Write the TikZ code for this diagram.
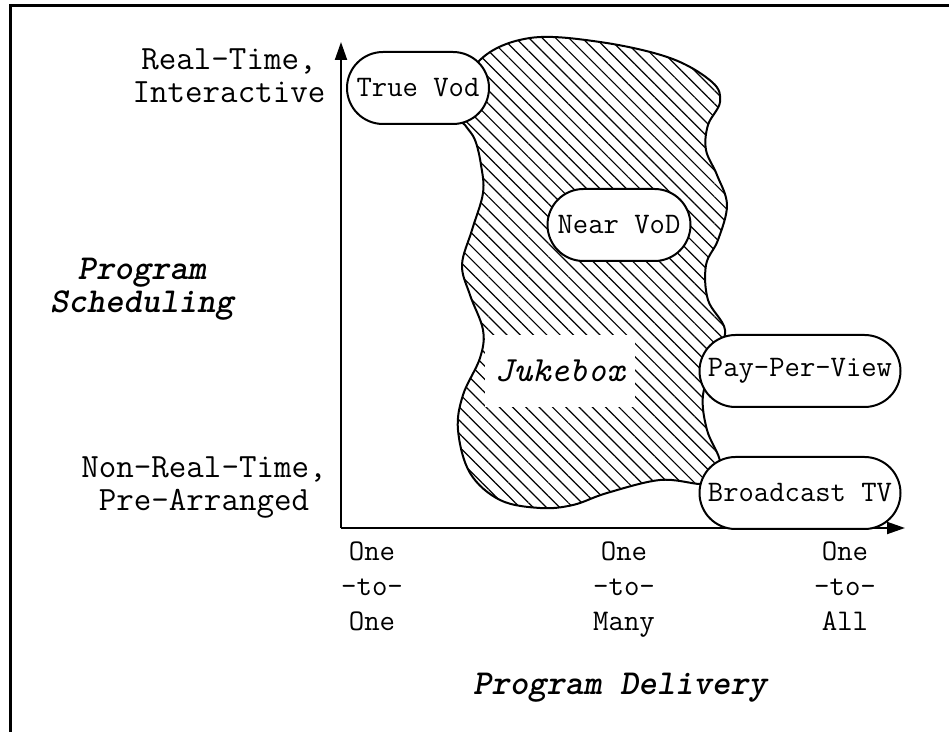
\documentclass[tikz,border=0pt]{standalone}
\usepackage{fontspec}
\usetikzlibrary{arrows.meta,patterns.meta}
\begin{document}
\begin{tikzpicture}[x=0.5pt,y=-0.5pt,
  axislabel/.style={font=\ttfamily\fontsize{17}{16.5}\selectfont, align=center, inner sep=0pt},
  ticklabel/.style={font=\ttfamily\fontsize{15}{17.5}\selectfont, align=center, inner sep=0pt, anchor=north},
  titlelabel/.style={font=\ttfamily\fontsize{17.5}{16.5}\selectfont\bfseries\itshape, align=center, inner sep=0pt},
  service/.style={draw, line width=1pt, fill=white, rounded corners=18pt,
    minimum height=36pt, inner sep=0pt, font=\ttfamily\fontsize{14.9}{15}\selectfont},
  axisline/.style={line width=1pt, -{Triangle[length=9pt,width=6pt]}},
  region/.style={line width=1pt,
    pattern={Lines[angle=-45,distance=4.7pt,line width=0.6pt]}}
]
\useasboundingbox (0,0) rectangle (949,732);

% outer frame
\draw[line width=1.5pt] (10,732) -- (10,6) -- (949,6);

% hatched service region
\draw[region] plot[smooth cycle, tension=0.6] coordinates {
  (455,110) (480,60) (530,38) (600,42) (670,58) (712,82) (720,102)
  (708,125) (706,150) (717,175) (727,205) (718,240) (706,265) (708,300)
  (725,330) (715,360) (703,395) (707,430) (720,462) (710,480)
  (700,484) (660,480) (607,493) (573,505) (540,508) (500,500)
  (470,473) (458,430) (463,395) (480,358) (483,330) (470,295)
  (462,265) (472,230) (483,193) (481,165) (475,140) (465,125)};

% axes
\coordinate (origin) at (341,528);
\coordinate (ytip) at (341,42);
\coordinate (xtip) at (905,528);
\draw[axisline] (origin) -- (ytip);
\draw[axisline] (origin) -- (xtip);

% services
\node[service, minimum width=71pt] (truevod) at (418,88) {True Vod};
\node[service, minimum width=71.5pt] (nearvod) at (619,225) {Near VoD};
\node[service, minimum width=100.5pt] (ppv) at (800,371) {Pay-Per-View};
\node[service, minimum width=100.5pt] (btv) at (800,493) {Broadcast TV};
\node[fill=white, minimum width=75pt, minimum height=36pt, inner sep=0pt,
  font=\ttfamily\fontsize{17.7}{16.5}\selectfont\itshape] (jukebox) at (560,371) {Jukebox};

% vertical axis labels
\node[axislabel] (realtime) at (229,76) {Real-Time,\\Interactive};
\node[axislabel] (nonrealtime) at (204,488) {Non-Real-Time,\\Pre-Arranged};
\node[titlelabel] (ytitle) at (142,289) {Program\\Scheduling};

% horizontal axis labels
\node[ticklabel] (oneone) at (372,541) {One\\-to-\\One};
\node[ticklabel] (onemany) at (624,541) {One\\-to-\\Many};
\node[ticklabel] (oneall) at (845,541) {One\\-to-\\All};
\node[titlelabel] (xtitle) at (620,688) {Program Delivery};
\end{tikzpicture}
\end{document}
